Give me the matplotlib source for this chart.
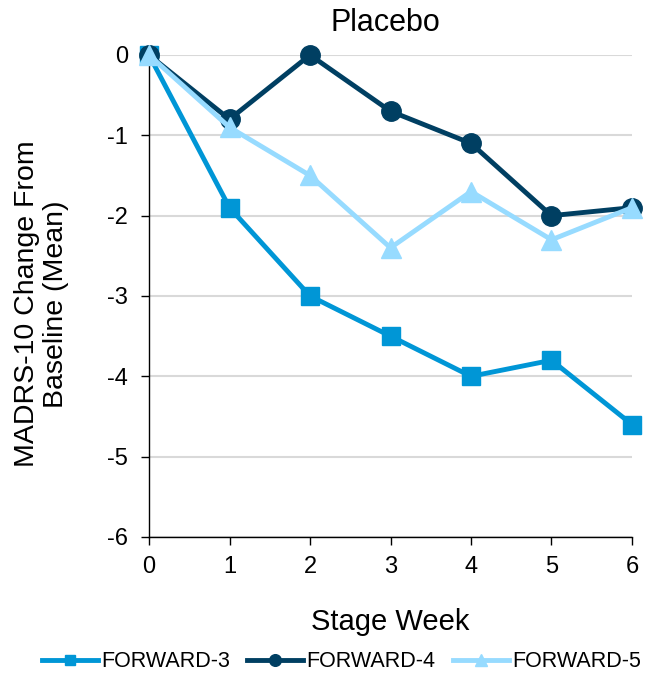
import matplotlib
matplotlib.use("Agg")
import matplotlib.pyplot as plt

plt.rcParams['font.family'] = ['Liberation Sans', 'DejaVu Sans']
plt.rcParams['axes.unicode_minus'] = False

weeks = [0, 1, 2, 3, 4, 5, 6]
forward3 = [0, -1.9, -3.0, -3.5, -4.0, -3.8, -4.6]
forward4 = [0, -0.8, 0.0, -0.7, -1.1, -2.0, -1.9]
forward5 = [0, -0.9, -1.5, -2.4, -1.7, -2.3, -1.9]
yticks = [0, -1, -2, -3, -4, -5, -6]

fig = plt.figure(figsize=(6.49, 6.74), dpi=100)
ax = fig.add_axes([0.2296, 0.2033, 0.7442, 0.7151])

ax.plot(weeks, forward3, color='#0096D6', lw=3.5, marker='s', ms=13, label='FORWARD-3', zorder=3)
ax.plot(weeks, forward4, color='#003F62', lw=3.5, marker='o', ms=14, label='FORWARD-4', zorder=4)
ax.plot(weeks, forward5, color='#97DBFF', lw=3.5, marker='^', ms=14, label='FORWARD-5', zorder=5)

ax.set_xlim(0, 6)
ax.set_ylim(-6, 0)
ax.set_xticks(weeks)
ax.set_yticks(yticks)
ax.tick_params(labelsize=17, direction='out', length=6, width=1, color='black')
ax.tick_params(axis='x', pad=8)
ax.tick_params(axis='y', pad=9)
ax.yaxis.grid(True, color='#D9D9D9', lw=1.5)
ax.set_axisbelow(True)
for s in ['top', 'right']:
    ax.spines[s].set_visible(False)
for s in ['left', 'bottom']:
    ax.spines[s].set_color('black')
    ax.spines[s].set_linewidth(1)

ax.text(0.49, 1.066, 'Placebo', transform=ax.transAxes, fontsize=22,
        ha='center', va='center')
ax.set_xlabel('Stage Week', fontsize=21)
ax.xaxis.set_label_coords(0.5, -0.147)
ax.set_ylabel('MADRS-10 Change From\nBaseline (Mean)', fontsize=20.5, linespacing=1.15)
ax.yaxis.set_label_coords(-0.166, 0.483)

fig.legend(loc='center', bbox_to_anchor=(0.526, 0.018), ncol=3, frameon=False,
           fontsize=15.5, handlelength=2.6, handletextpad=0.15, columnspacing=0.8,
           markerscale=0.6, borderaxespad=0, borderpad=0)

for line in ax.get_lines():
    line.set_clip_on(False)

fig.savefig('out.png', dpi=100)
